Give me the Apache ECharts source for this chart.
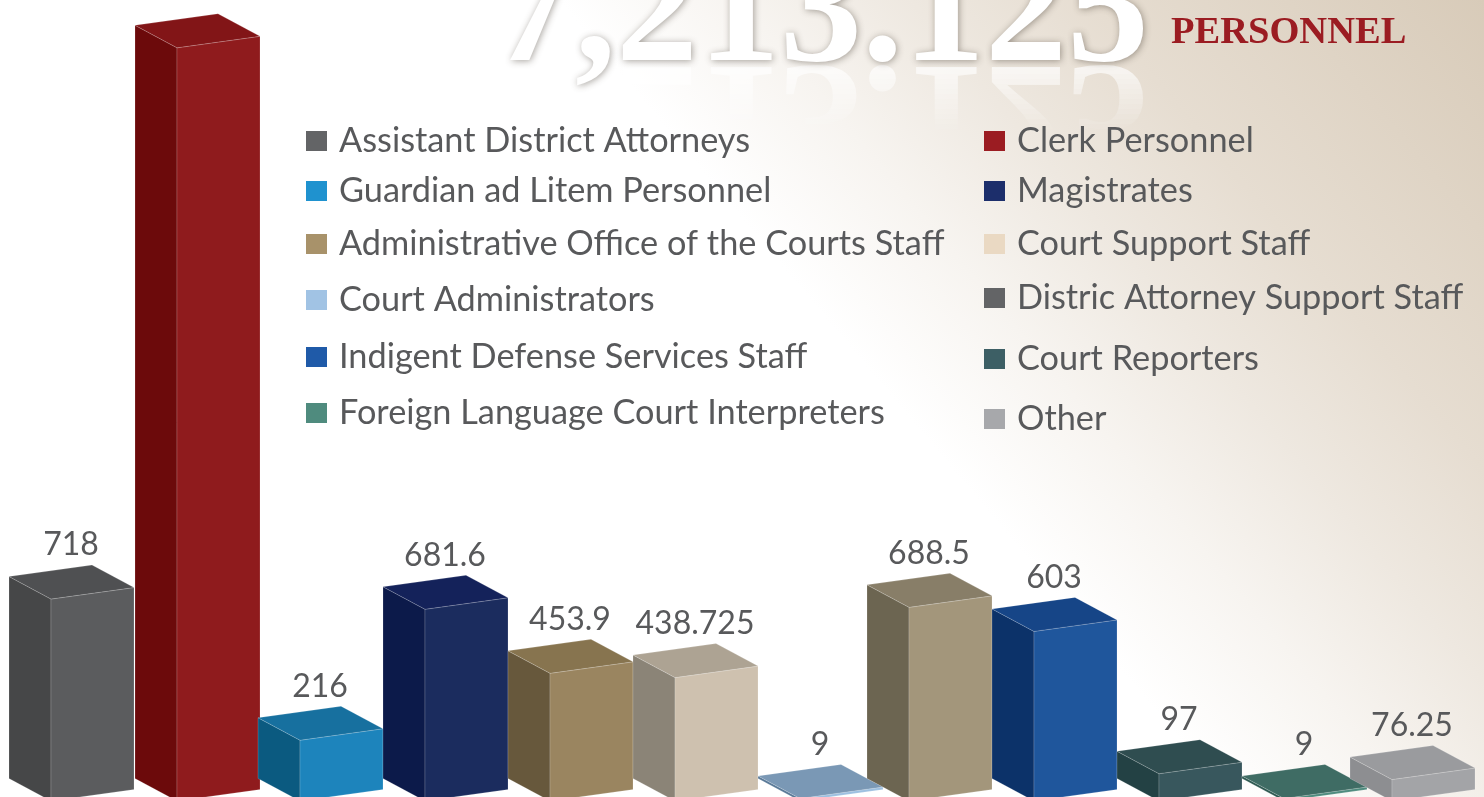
<!DOCTYPE html>
<html>
<head>
<meta charset="utf-8">
<style>
  html, body { margin: 0; padding: 0; }
  #chart {
    width: 1484px;
    height: 797px;
    background: linear-gradient(50deg, #ffffff 0, #ffffff 940px, #f7f4f0 1080px, #eee8e0 1210px, #e6ddd1 1346px, #d8cbb9 1649px);
  }
</style>
<script src="https://cdn.jsdelivr.net/npm/echarts@6/dist/echarts.min.js"></script>
</head>
<body>
<div id="chart"></div>
<script>
const categories = [
  'Assistant District Attorneys', 'Clerk Personnel',
  'Guardian ad Litem Personnel', 'Magistrates',
  'Administrative Office of the Courts Staff', 'Court Support Staff',
  'Court Administrators', 'Distric Attorney Support Staff',
  'Indigent Defense Services Staff', 'Court Reporters',
  'Foreign Language Court Interpreters', 'Other'
]
const values = [718, 2678, 216, 681.6, 453.9, 438.725, 9, 688.5, 603, 97, 9, 76.25]
const totalText = '7,213.125'
const totalUnit = 'PERSONNEL'

const legendColors = ['#636466', '#9b1c22', '#1f92cf', '#1c2e6b', '#a8926a', '#ead9c3', '#a1c3e4', '#636466', '#1f5aa8', '#3d5f65', '#4f8b7e', '#a7a8ab']
const frontColors = ['#5b5c5e', '#8f1b1d', '#1d84bc', '#1b2c5e', '#9a8560', '#cec1af', '#9dc0e0', '#a3967b', '#1f569c', '#38575d', '#4f8b7e', '#a3a4a7']
const sideColors = ['#464748', '#6c0a0b', '#0b5a80', '#0c1a4a', '#67583c', '#8b8477', '#5a7a98', '#6c6551', '#0c3269', '#234144', '#2f5a52', '#8d8e91']
const topColors = ['#4f5052', '#821517', '#17709f', '#14225a', '#87744f', '#ada393', '#7a98b5', '#887e68', '#164587', '#2f4d50', '#3f6c64', '#9a9b9e']

// the source slide squeezes a few bars closer together
const slotNudge = [0, 1, -1, -1, -1, -1, -1, -17, -17, -17, -17, -34]
const legendRows = [[140, 190, 243, 299, 356, 412], [140, 190, 243, 297, 358, 418]]
const legendLeft = [306, 984]

const TEXT_COLOR = '#58595b'
const FONT = 'Lato'
const TITLE_SIZE = 164
const TITLE_LEFT = 493
const SIDE_DX = 42
const SIDE_DY = 22.5
const FRONT_W = 83
const FRONT_RISE = 11.5
const EDGE = { stroke: 'rgba(255,255,255,0.28)', lineWidth: 0.6 }

const face = (points, fill) => ({
  type: 'polygon',
  shape: { points },
  style: { fill, ...EDGE }
})

const renderBar = (params, api) => {
  const idx = api.value(0)
  const value = api.value(1)
  const x = api.coord([idx, 0])[0] + slotNudge[idx]
  const y0 = api.coord([idx, 0])[1]
  const y1 = api.coord([idx, value])[1]

  const children = [
    face([[x - SIDE_DX, y0 - SIDE_DY], [x, y0], [x, y1], [x - SIDE_DX, y1 - SIDE_DY]], sideColors[idx]),
    face([[x, y0], [x + FRONT_W, y0 - FRONT_RISE], [x + FRONT_W, y1 - FRONT_RISE], [x, y1]], frontColors[idx]),
    face([
      [x, y1],
      [x + FRONT_W, y1 - FRONT_RISE],
      [x + FRONT_W - SIDE_DX, y1 - FRONT_RISE - SIDE_DY],
      [x - SIDE_DX, y1 - SIDE_DY]
    ], topColors[idx])
  ]

  // the tallest bar's label falls off the top of the picture
  const labelY = y1 - 54
  if (labelY > 12) {
    children.push({
      type: 'text',
      style: {
        x: x + 20,
        y: labelY,
        text: String(value),
        fill: TEXT_COLOR,
        font: '32px ' + FONT,
        align: 'center',
        verticalAlign: 'middle'
      }
    })
  }
  return { type: 'group', children }
}

// mirrored total under the headline, fading out in thin slices
const renderReflection = () => {
  const sliceH = 5
  const slices = 13
  const children = []
  for (let i = 0; i < slices; i++) {
    children.push({
      type: 'text',
      x: TITLE_LEFT,
      y: 64,
      scaleY: -1,
      clipPath: { type: 'rect', shape: { x: -20, y: -(i + 1) * sliceH, width: 700, height: sliceH } },
      style: {
        x: 0,
        y: -TITLE_SIZE * 0.275,
        text: totalText,
        fill: '#ffffff',
        opacity: 0.7 * (1 - i / slices),
        font: 'bold ' + TITLE_SIZE + 'px "Liberation Serif"',
        verticalAlign: 'middle'
      }
    })
  }
  return { type: 'group', children }
}

const series = categories.map((name, i) => ({
  type: 'custom',
  name,
  renderItem: renderBar,
  encode: { x: 0, y: 1 },
  itemStyle: { color: legendColors[i] },
  data: [[i, values[i]]],
  z: 3 + i
}))
series.push({
  type: 'custom',
  name: 'reflection',
  renderItem: renderReflection,
  silent: true,
  data: [[0, 0]],
  z: 1
})

const legends = categories.map((name, i) => {
  const col = i % 2
  const row = Math.floor(i / 2)
  return {
    data: [name],
    left: legendLeft[col],
    top: legendRows[col][row] - 20,
    padding: 0,
    icon: 'rect',
    itemWidth: 21,
    itemHeight: 20,
    itemGap: 0,
    selectedMode: false,
    textStyle: {
      color: TEXT_COLOR,
      fontFamily: FONT,
      fontSize: 34.3,
      padding: [0, 0, 0, 7],
      lineHeight: 42
    }
  }
})

const chart = echarts.init(document.getElementById('chart'))
chart.setOption({
  animation: false,
  title: [
    {
      text: totalText,
      left: TITLE_LEFT,
      top: -64,
      padding: 0,
      textStyle: {
        color: '#ffffff',
        fontFamily: 'Liberation Serif',
        fontWeight: 'bold',
        fontSize: TITLE_SIZE,
        textShadowColor: 'rgba(60,50,40,0.45)',
        textShadowBlur: 7,
        textShadowOffsetX: 1,
        textShadowOffsetY: 1
      }
    },
    {
      text: totalUnit,
      left: 1171,
      top: 14,
      padding: 0,
      textStyle: {
        color: '#9b1c22',
        fontFamily: 'Liberation Serif',
        fontWeight: 'bold',
        fontSize: 38.5
      }
    }
  ],
  legend: legends,
  grid: { left: -11.5, top: 0, width: 1500, height: 801, outerBoundsMode: 'none' },
  xAxis: { type: 'category', data: categories, show: false },
  yAxis: { type: 'value', min: 0, max: 2848, show: false },
  series
})
window.addEventListener('resize', () => chart.resize())
</script>
</body>
</html>
